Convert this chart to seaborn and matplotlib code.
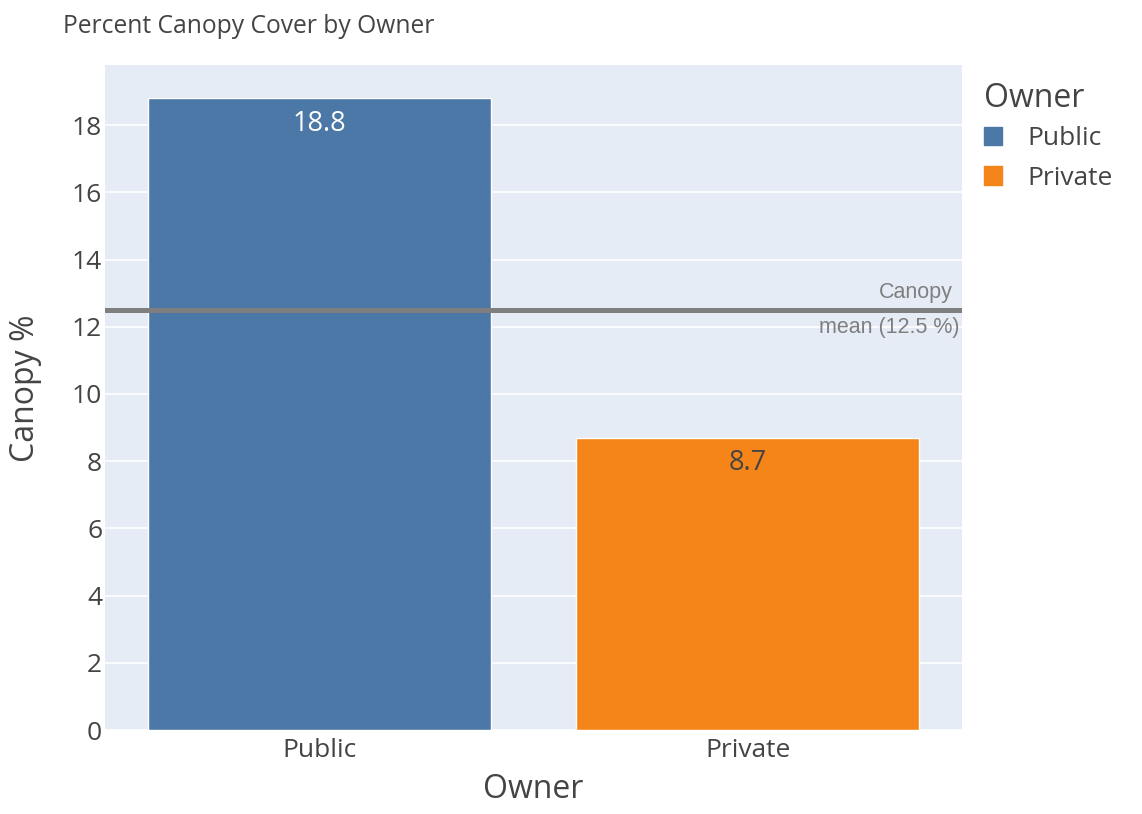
import matplotlib
matplotlib.use("Agg")
import matplotlib.pyplot as plt
import seaborn as sns
import pandas as pd

owners = ["Public", "Private"]
canopy_pct = [18.8, 8.7]
canopy_mean = 12.5
palette = ["#4C78A8", "#F58518"]
y_ticks = [0, 2, 4, 6, 8, 10, 12, 14, 16, 18]

df = pd.DataFrame({"Owner": owners, "Canopy %": canopy_pct})

sns.set_style("white")
plt.rcParams["font.family"] = ["Open Sans", "DejaVu Sans"]

W, H = 1142, 814
fig = plt.figure(figsize=(W / 100, H / 100), dpi=100)
ax = fig.add_axes([105 / W, 84 / H, 857 / W, 665 / H])
ax.set_facecolor("#E5ECF6")

sns.barplot(data=df, x="Owner", y="Canopy %", hue="Owner", palette=palette,
            width=0.8, dodge=False, legend=False, ax=ax, saturation=1)

ax.set_xlim(-0.5, 1.5)
ax.set_ylim(0, max(canopy_pct) * 1.0526)
ax.set_yticks(y_ticks)
ax.grid(axis="y", color="white", linewidth=1.2)
ax.set_axisbelow(True)
for s in ax.spines.values():
    s.set_visible(False)
ax.tick_params(axis="both", length=0, labelsize=19, colors="#444444")
ax.tick_params(axis="x", pad=6)
ax.tick_params(axis="y", pad=2)

# value labels inside the top of each bar
txt_colors = ["white", "#444444"]
for i, (v, c) in enumerate(zip(canopy_pct, txt_colors)):
    ax.annotate(f"{v}", xy=(i, v), xytext=(0, -8.5), textcoords="offset points",
                ha="center", va="top", fontsize=19.5, color=c)

# mean reference line with its two-line caption
ax.axhline(canopy_mean, color="#7f7f7f", linewidth=3.6, zorder=3)
ax.annotate("Canopy", xy=(1.0, canopy_mean), xycoords=("axes fraction", "data"),
            xytext=(-6.5, 8.6), textcoords="offset points", ha="right",
            va="baseline", fontsize=15.5, color="#7f7f7f",
            family="Liberation Sans")
ax.annotate(f"mean ({canopy_mean} %)", xy=(1.0, canopy_mean),
            xycoords=("axes fraction", "data"),
            xytext=(-1.5, -16.5), textcoords="offset points", ha="right",
            va="baseline", fontsize=15.5, color="#7f7f7f",
            family="Liberation Sans")

ax.set_xlabel("Owner", fontsize=23, color="#444444")
ax.xaxis.label.set_va("baseline")
ax.xaxis.set_label_coords(0.5, (730 - 798) / 665)
ax.set_ylabel("")
fig.text(25 / W, 1 - 388 / H, "Canopy %", rotation=90, ha="center",
         va="center", fontsize=23, color="#444444")

fig.text(63 / W, 1 - 33 / H, "Percent Canopy Cover by Owner",
         fontsize=17.7, color="#444444", ha="left", va="baseline")

# legend
handles = [plt.Rectangle((0, 0), 1, 1, color=c) for c in palette]
leg = fig.legend(handles, owners, title="Owner", loc="upper left",
                 bbox_to_anchor=(984 / W, 1 - 82 / H), frameon=False,
                 fontsize=19, title_fontsize=23, handlelength=0.7,
                 handleheight=0.7, handletextpad=0.95, labelspacing=0.55,
                 borderaxespad=0, borderpad=0)
leg._legend_box.sep = 8
leg._legend_box.align = "left"
for t in leg.get_texts():
    t.set_color("#444444")
leg.get_title().set_color("#444444")

fig.savefig("out.png", dpi=100, facecolor="white")
